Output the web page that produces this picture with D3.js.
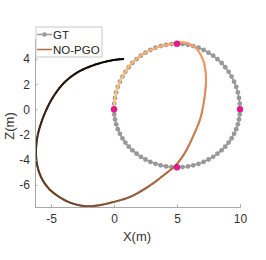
<!DOCTYPE html>
<html>
<head>
<meta charset="utf-8">
<script src="https://cdn.jsdelivr.net/npm/d3@7"></script>
<style>
  body { margin: 0; background: #fff; }
  text { font-family: "Liberation Sans", Arial, sans-serif; }
</style>
</head>
<body>
<div id="chart"></div>
<script>
// ground truth loop (X, Z in m)
var gtX = [0, 0.02, 0.08, 0.17, 0.30, 0.47, 0.67, 0.90, 1.17, 1.46, 1.79, 2.13, 2.50, 2.89, 3.29, 3.71, 4.13, 4.56,
  5.00, 5.44, 5.87, 6.29, 6.71, 7.11, 7.50, 7.87, 8.21, 8.54, 8.83, 9.10, 9.33, 9.53, 9.70, 9.83, 9.92, 9.98,
  10.00, 9.98, 9.92, 9.83, 9.70, 9.53, 9.33, 9.10, 8.83, 8.54, 8.21, 7.87, 7.50, 7.11, 6.71, 6.29, 5.87, 5.44,
  5.00, 4.56, 4.13, 3.71, 3.29, 2.89, 2.50, 2.13, 1.79, 1.46, 1.17, 0.90, 0.67, 0.47, 0.30, 0.17, 0.08, 0.02];
var gtZ = [0, 0.45, 0.90, 1.35, 1.78, 2.20, 2.60, 2.98, 3.34, 3.68, 3.98, 4.26, 4.50, 4.71, 4.89, 5.02, 5.12, 5.18,
  5.20, 5.18, 5.12, 5.02, 4.89, 4.71, 4.50, 4.26, 3.98, 3.68, 3.34, 2.98, 2.60, 2.20, 1.78, 1.35, 0.90, 0.45,
  0, -0.40, -0.80, -1.19, -1.57, -1.94, -2.30, -2.64, -2.96, -3.25, -3.52, -3.77, -3.98, -4.17, -4.32, -4.44, -4.53, -4.58,
  -4.60, -4.58, -4.53, -4.44, -4.32, -4.17, -3.98, -3.77, -3.52, -3.25, -2.96, -2.64, -2.30, -1.94, -1.57, -1.19, -0.80, -0.40];

// NO-PGO estimated trajectory
var pgoX = [0.74, -0.32, -1.64, -2.96, -4.02, -4.82, -5.40, -5.87, -6.10, -6.19, -6.10, -5.80, -5.25, -4.50, -3.49,
  -2.30, -1.37, -0.06, 1.27, 2.30, 3.20, 4.10, 4.84, 5.63, 6.29, 6.83, 7.10, 7.26, 7.30, 7.22, 6.98, 6.51, 5.87, 5.24,
  4.50, 3.70, 2.90, 2.10, 1.45, 0.90, 0.47, 0.17, 0.04, 0.05];
var pgoZ = [4.00, 3.86, 3.50, 2.90, 2.05, 1.00, -0.10, -1.35, -2.30, -3.40, -4.40, -5.35, -6.20, -6.85, -7.40,
  -7.68, -7.64, -7.36, -6.95, -6.40, -5.80, -5.10, -4.50, -3.44, -2.12, -0.79, 0.40, 1.59, 2.38, 3.33, 4.13, 4.84, 5.24, 5.32,
  5.18, 5.00, 4.70, 4.25, 3.70, 3.00, 2.20, 1.35, 0.50, 0.00];

// key poses
var keyX = [0, 5, 10, 5];
var keyZ = [0, 5.2, 0, -4.6];

var xTicks = [-5, 0, 5, 10];
var zTicks = [-6, -4, -2, 0, 2, 4];
var seriesNames = ["GT", "NO-PGO"];

var width = 266, height = 260;
var x = d3.scaleLinear().domain([-6.27, 10]).range([35, 240]);
var y = d3.scaleLinear().domain([-7.75, 5.6]).range([207, 38.8]);

var svg = d3.select("#chart").append("svg")
  .attr("width", width).attr("height", height);

// matlab copper colormap
function copper(t) {
  return d3.rgb(255 * Math.min(1, 1.25 * t), 255 * 0.7812 * t, 255 * 0.4975 * t) + "";
}

// GT line + markers
var gt = d3.range(gtX.length).map(function(i) { return [gtX[i], gtZ[i]]; });
svg.append("path")
  .datum(gt)
  .attr("d", d3.line().x(function(d) { return x(d[0]); }).y(function(d) { return y(d[1]); }).curve(d3.curveLinearClosed))
  .attr("fill", "none").attr("stroke", "#999").attr("stroke-width", 1.5);
svg.selectAll(".gt").data(gt).enter().append("circle")
  .attr("class", "gt")
  .attr("cx", function(d) { return x(d[0]); })
  .attr("cy", function(d) { return y(d[1]); })
  .attr("r", 2.4)
  .attr("fill", "#999");

// NO-PGO, coloured along its length
var pgo = d3.range(pgoX.length).map(function(i) { return [pgoX[i], pgoZ[i]]; });
var guide = svg.append("path")
  .datum(pgo)
  .attr("d", d3.line().x(function(d) { return x(d[0]); }).y(function(d) { return y(d[1]); }).curve(d3.curveCatmullRom))
  .attr("fill", "none").attr("stroke", "none");
var node = guide.node();
var total = node.getTotalLength();
var n = 300;
var samples = d3.range(n + 1).map(function(i) { return node.getPointAtLength(total * i / n); });
var segs = svg.append("g");
for (var i = 0; i < n; i++) {
  segs.append("line")
    .attr("x1", samples[i].x).attr("y1", samples[i].y)
    .attr("x2", samples[i + 1].x).attr("y2", samples[i + 1].y)
    .attr("stroke", copper(i / (n - 1)))
    .attr("stroke-width", 2)
    .attr("stroke-linecap", "round");
}

// key poses
svg.selectAll(".key").data(keyX).enter().append("circle")
  .attr("class", "key")
  .attr("cx", function(d) { return x(d); })
  .attr("cy", function(d, i) { return y(keyZ[i]); })
  .attr("r", 3)
  .attr("fill", "#ec1690")
  .attr("stroke", "#b0106a").attr("stroke-width", 0.5);

// axes
var xAxis = svg.append("g")
  .attr("transform", "translate(0,207)")
  .call(d3.axisBottom(x).tickValues(xTicks).tickSize(-2.5).tickPadding(7).tickFormat(d3.format("d")));
var yAxis = svg.append("g")
  .attr("transform", "translate(35,0)")
  .call(d3.axisLeft(y).tickValues(zTicks).tickSize(-2.5).tickPadding(5).tickFormat(d3.format("d")));
[xAxis, yAxis].forEach(function(a) {
  a.select(".domain").attr("stroke", "#a8a8a8");
  a.selectAll(".tick line").attr("stroke", "#a8a8a8");
  a.selectAll(".tick text").attr("fill", "#333").style("font-size", "12px")
    .style("font-family", "'Liberation Sans', Arial, sans-serif");
});
xAxis.selectAll(".tick text").text(function(d) { return d < 0 ? "-" + (-d) : d; });
yAxis.selectAll(".tick text").text(function(d) { return d < 0 ? "-" + (-d) : d; });

svg.append("text")
  .attr("x", 137).attr("y", 241)
  .attr("text-anchor", "middle")
  .attr("fill", "#333").style("font-size", "13px")
  .text("X(m)");
svg.append("text")
  .attr("transform", "translate(14,126) rotate(-90)")
  .attr("text-anchor", "middle")
  .attr("fill", "#333").style("font-size", "13px")
  .text("Z(m)");

// legend
var lg = svg.append("g");
lg.append("rect")
  .attr("x", 36).attr("y", 27).attr("width", 66).attr("height", 30)
  .attr("fill", "#fff").attr("stroke", "#c8c8c8").attr("stroke-width", 1);
lg.append("line").attr("x1", 37).attr("x2", 52).attr("y1", 34.5).attr("y2", 34.5)
  .attr("stroke", "#999").attr("stroke-width", 1.5);
lg.append("circle").attr("cx", 44.5).attr("cy", 34.5).attr("r", 2.2).attr("fill", "#999");
lg.append("line").attr("x1", 37).attr("x2", 52).attr("y1", 49.5).attr("y2", 49.5)
  .attr("stroke", copper(0.55)).attr("stroke-width", 1.5);
lg.selectAll(".lt").data(seriesNames).enter().append("text")
  .attr("x", 53)
  .attr("y", function(d, i) { return 38.8 + i * 15; })
  .attr("fill", "#222").style("font-size", "11.5px")
  .text(function(d) { return d; });
</script>
</body>
</html>
